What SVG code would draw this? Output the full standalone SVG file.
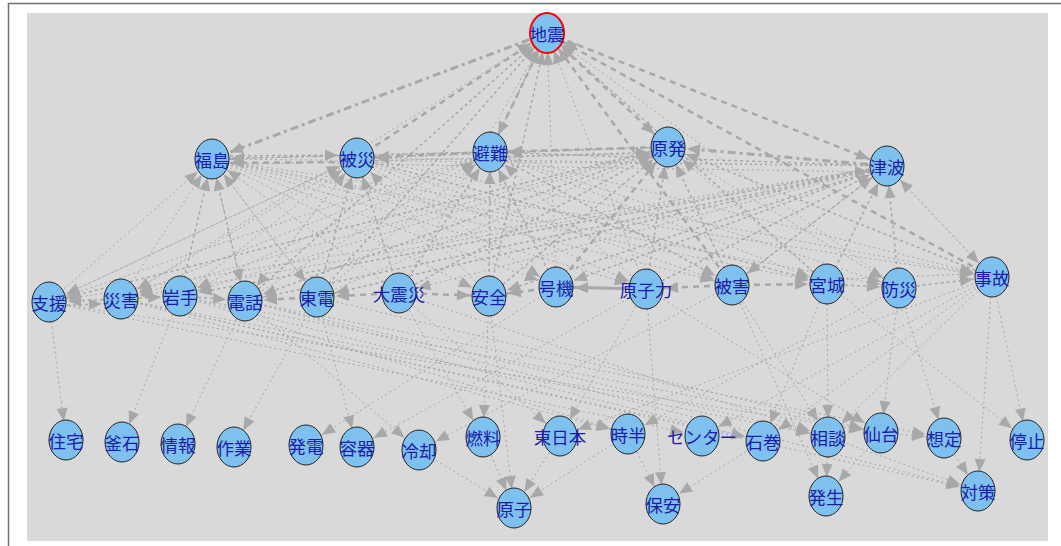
<svg xmlns="http://www.w3.org/2000/svg" width="1061" height="546" viewBox="0 0 1061 546">
<defs>
<marker id="ah" markerUnits="userSpaceOnUse" markerWidth="13" markerHeight="11" refX="32" refY="5.5" orient="auto" style="overflow:visible">
<path d="M0,0 L13,5.5 L0,11 z" fill="#a8a8a8"/>
</marker>
</defs>
<style>
.bg{fill:#ffffff;stroke:#707070;stroke-width:1.5}
.panel{fill:#d9d9d9}
#edges line{stroke:#a8a8a8;fill:none;marker-end:url(#ah)}
.d1{stroke-width:1;stroke-dasharray:2 3}
.d2{stroke-width:1.5;stroke-dasharray:3 3}
.d3{stroke-width:2.5;stroke-dasharray:6 5}
.d4{stroke-width:3;stroke-dasharray:8 4 3 4}
.s{stroke-width:3}
.node ellipse{fill:#7ec0ee;stroke:#222;stroke-width:1}
.node text{font-family:"Noto Sans CJK JP","Noto Sans CJK SC",sans-serif;font-size:17.5px;fill:#1c1ca8;text-anchor:middle;dominant-baseline:central}
#n00 ellipse{stroke:#ff0000;stroke-width:2}
</style>
<rect class="bg" x="8.5" y="3.5" width="1060" height="560"/>
<rect class="panel" x="27" y="13" width="1021" height="528"/>
<g id="edges">
<line class="d3" x1="357" y1="158" x2="547" y2="33"/>
<line class="d2" x1="490" y1="152" x2="547" y2="33"/>
<line class="d1" x1="121" y1="299" x2="547" y2="33"/>
<line class="d2" x1="245" y1="301" x2="547" y2="33"/>
<line class="d2" x1="317" y1="297" x2="547" y2="33"/>
<line class="d1" x1="399" y1="293" x2="547" y2="33"/>
<line class="d2" x1="489" y1="296" x2="547" y2="33"/>
<line class="d1" x1="556" y1="287" x2="547" y2="33"/>
<line class="d1" x1="646" y1="289" x2="547" y2="33"/>
<line class="d3" x1="732" y1="285" x2="547" y2="33"/>
<line class="d2" x1="827" y1="284" x2="547" y2="33"/>
<line class="d1" x1="899" y1="288" x2="547" y2="33"/>
<line class="d3" x1="992" y1="277" x2="547" y2="33"/>
<line class="d4" x1="547" y1="33" x2="212" y2="159"/>
<line class="d3" x1="547" y1="33" x2="490" y2="152"/>
<line class="d3" x1="547" y1="33" x2="668" y2="147"/>
<line class="d3" x1="547" y1="33" x2="887" y2="166"/>
<line class="d2" x1="212" y1="156" x2="357" y2="155"/>
<line class="d3" x1="357" y1="162" x2="212" y2="163"/>
<line class="d2" x1="490" y1="152" x2="212" y2="159"/>
<line class="d3" x1="490" y1="152" x2="357" y2="158"/>
<line class="d1" x1="668" y1="147" x2="212" y2="159"/>
<line class="d2" x1="668" y1="147" x2="357" y2="158"/>
<line class="d3" x1="668" y1="147" x2="490" y2="152"/>
<line class="d2" x1="490" y1="157" x2="668" y2="152"/>
<line class="d4" x1="887" y1="166" x2="668" y2="147"/>
<line class="d2" x1="887" y1="166" x2="490" y2="152"/>
<line class="d1" x1="887" y1="166" x2="357" y2="158"/>
<line class="d1" x1="887" y1="166" x2="212" y2="159"/>
<line class="d1" x1="212" y1="165" x2="668" y2="153"/>
<line class="d1" x1="357" y1="164" x2="887" y2="172"/>
<line class="d1" x1="49" y1="302" x2="212" y2="159"/>
<line class="d1" x1="121" y1="299" x2="212" y2="159"/>
<line class="d2" x1="180" y1="296" x2="212" y2="159"/>
<line class="d2" x1="245" y1="301" x2="212" y2="159"/>
<line class="d1" x1="317" y1="297" x2="212" y2="159"/>
<line class="d1" x1="399" y1="293" x2="212" y2="159"/>
<line class="d1" x1="180" y1="296" x2="357" y2="158"/>
<line class="d1" x1="245" y1="301" x2="357" y2="158"/>
<line class="d2" x1="317" y1="297" x2="357" y2="158"/>
<line class="d2" x1="399" y1="293" x2="357" y2="158"/>
<line class="d1" x1="489" y1="296" x2="357" y2="158"/>
<line class="d1" x1="49" y1="302" x2="357" y2="158"/>
<line class="d1" x1="317" y1="297" x2="490" y2="152"/>
<line class="d2" x1="399" y1="293" x2="490" y2="152"/>
<line class="d2" x1="489" y1="296" x2="490" y2="152"/>
<line class="d2" x1="556" y1="287" x2="490" y2="152"/>
<line class="d1" x1="646" y1="289" x2="490" y2="152"/>
<line class="d1" x1="245" y1="301" x2="490" y2="152"/>
<line class="d1" x1="317" y1="297" x2="668" y2="147"/>
<line class="d2" x1="489" y1="296" x2="668" y2="147"/>
<line class="d3" x1="556" y1="287" x2="668" y2="147"/>
<line class="d2" x1="646" y1="289" x2="668" y2="147"/>
<line class="d2" x1="732" y1="285" x2="668" y2="147"/>
<line class="d1" x1="827" y1="284" x2="668" y2="147"/>
<line class="d2" x1="992" y1="277" x2="668" y2="147"/>
<line class="d2" x1="399" y1="293" x2="668" y2="147"/>
<line class="d1" x1="732" y1="285" x2="887" y2="166"/>
<line class="d2" x1="827" y1="284" x2="887" y2="166"/>
<line class="d2" x1="899" y1="288" x2="887" y2="166"/>
<line class="d1" x1="992" y1="277" x2="887" y2="166"/>
<line class="d2" x1="646" y1="289" x2="887" y2="166"/>
<line class="d1" x1="212" y1="159" x2="245" y2="301"/>
<line class="d1" x1="357" y1="158" x2="245" y2="301"/>
<line class="d1" x1="212" y1="159" x2="317" y2="297"/>
<line class="d1" x1="212" y1="159" x2="489" y2="296"/>
<line class="d1" x1="212" y1="159" x2="556" y2="287"/>
<line class="d1" x1="212" y1="159" x2="646" y2="289"/>
<line class="d1" x1="212" y1="159" x2="732" y2="285"/>
<line class="d1" x1="212" y1="159" x2="827" y2="284"/>
<line class="d1" x1="212" y1="159" x2="899" y2="288"/>
<line class="d1" x1="212" y1="159" x2="992" y2="277"/>
<line class="d1" x1="357" y1="158" x2="49" y2="302"/>
<line class="d1" x1="357" y1="158" x2="121" y2="299"/>
<line class="d1" x1="357" y1="158" x2="556" y2="287"/>
<line class="d1" x1="357" y1="158" x2="646" y2="289"/>
<line class="d1" x1="357" y1="158" x2="732" y2="285"/>
<line class="d2" x1="357" y1="158" x2="827" y2="284"/>
<line class="d1" x1="357" y1="158" x2="992" y2="277"/>
<line class="d1" x1="490" y1="152" x2="49" y2="302"/>
<line class="d1" x1="490" y1="152" x2="121" y2="299"/>
<line class="d1" x1="490" y1="152" x2="180" y2="296"/>
<line class="d2" x1="490" y1="152" x2="732" y2="285"/>
<line class="d1" x1="490" y1="152" x2="827" y2="284"/>
<line class="d1" x1="490" y1="152" x2="899" y2="288"/>
<line class="d1" x1="490" y1="152" x2="992" y2="277"/>
<line class="d2" x1="668" y1="147" x2="49" y2="302"/>
<line class="d1" x1="668" y1="147" x2="121" y2="299"/>
<line class="d1" x1="668" y1="147" x2="180" y2="296"/>
<line class="d2" x1="668" y1="147" x2="245" y2="301"/>
<line class="d1" x1="668" y1="147" x2="899" y2="288"/>
<line class="d1" x1="887" y1="166" x2="49" y2="302"/>
<line class="d1" x1="887" y1="166" x2="121" y2="299"/>
<line class="d2" x1="887" y1="166" x2="180" y2="296"/>
<line class="d2" x1="887" y1="166" x2="245" y2="301"/>
<line class="d2" x1="887" y1="166" x2="317" y2="297"/>
<line class="d1" x1="887" y1="166" x2="399" y2="293"/>
<line class="d2" x1="887" y1="166" x2="489" y2="296"/>
<line class="d2" x1="887" y1="166" x2="556" y2="287"/>
<line class="d2" x1="887" y1="166" x2="732" y2="285"/>
<line class="d1" x1="887" y1="166" x2="992" y2="277"/>
<line class="d2" x1="121" y1="299" x2="49" y2="302"/>
<line class="d2" x1="49" y1="306" x2="121" y2="303"/>
<line class="d2" x1="121" y1="299" x2="180" y2="296"/>
<line class="d2" x1="180" y1="296" x2="245" y2="301"/>
<line class="d3" x1="317" y1="297" x2="245" y2="301"/>
<line class="d3" x1="399" y1="293" x2="317" y2="297"/>
<line class="d3" x1="399" y1="293" x2="489" y2="296"/>
<line class="d3" x1="556" y1="287" x2="489" y2="296"/>
<line class="s" x1="646" y1="289" x2="556" y2="287"/>
<line class="d3" x1="732" y1="285" x2="646" y2="289"/>
<line class="d3" x1="732" y1="285" x2="827" y2="284"/>
<line class="d2" x1="827" y1="284" x2="899" y2="288"/>
<line class="d2" x1="899" y1="288" x2="992" y2="277"/>
<line class="d1" x1="827" y1="280" x2="992" y2="273"/>
<line class="d1" x1="49" y1="302" x2="66" y2="440"/>
<line class="d1" x1="180" y1="296" x2="122" y2="442"/>
<line class="d1" x1="245" y1="301" x2="178" y2="444"/>
<line class="d1" x1="317" y1="297" x2="234" y2="447"/>
<line class="d1" x1="556" y1="287" x2="306" y2="445"/>
<line class="d1" x1="317" y1="297" x2="357" y2="447"/>
<line class="d1" x1="646" y1="289" x2="357" y2="447"/>
<line class="d1" x1="245" y1="301" x2="419" y2="450"/>
<line class="d1" x1="732" y1="285" x2="419" y2="450"/>
<line class="d1" x1="399" y1="293" x2="483" y2="437"/>
<line class="d1" x1="489" y1="296" x2="483" y2="437"/>
<line class="d1" x1="399" y1="293" x2="560" y2="436"/>
<line class="d1" x1="646" y1="289" x2="560" y2="436"/>
<line class="d1" x1="121" y1="299" x2="628" y2="434"/>
<line class="d1" x1="899" y1="288" x2="628" y2="434"/>
<line class="d1" x1="49" y1="302" x2="702" y2="436"/>
<line class="d1" x1="992" y1="277" x2="702" y2="436"/>
<line class="d1" x1="180" y1="296" x2="763" y2="441"/>
<line class="d1" x1="827" y1="284" x2="763" y2="441"/>
<line class="d1" x1="121" y1="299" x2="828" y2="437"/>
<line class="d1" x1="827" y1="284" x2="828" y2="437"/>
<line class="d1" x1="732" y1="285" x2="828" y2="437"/>
<line class="d1" x1="180" y1="296" x2="881" y2="433"/>
<line class="d1" x1="899" y1="288" x2="881" y2="433"/>
<line class="d1" x1="646" y1="289" x2="881" y2="433"/>
<line class="d1" x1="899" y1="288" x2="944" y2="438"/>
<line class="d1" x1="881" y1="433" x2="944" y2="438"/>
<line class="d1" x1="992" y1="277" x2="1027" y2="440"/>
<line class="d1" x1="827" y1="284" x2="1027" y2="440"/>
<line class="d1" x1="49" y1="302" x2="881" y2="433"/>
<line class="d1" x1="121" y1="299" x2="763" y2="441"/>
<line class="d1" x1="245" y1="301" x2="828" y2="437"/>
<line class="d1" x1="317" y1="297" x2="881" y2="433"/>
<line class="d1" x1="245" y1="301" x2="944" y2="438"/>
<line class="d1" x1="399" y1="293" x2="828" y2="437"/>
<line class="d1" x1="992" y1="277" x2="763" y2="441"/>
<line class="d1" x1="992" y1="277" x2="560" y2="436"/>
<line class="d1" x1="992" y1="277" x2="828" y2="437"/>
<line class="d1" x1="180" y1="296" x2="628" y2="434"/>
<line class="d1" x1="992" y1="277" x2="978" y2="491"/>
<line class="d1" x1="944" y1="438" x2="978" y2="491"/>
<line class="d1" x1="828" y1="437" x2="978" y2="491"/>
<line class="d1" x1="245" y1="301" x2="978" y2="491"/>
<line class="d1" x1="121" y1="299" x2="978" y2="491"/>
<line class="d1" x1="828" y1="437" x2="826" y2="496"/>
<line class="d1" x1="881" y1="433" x2="826" y2="496"/>
<line class="d1" x1="732" y1="285" x2="826" y2="496"/>
<line class="d1" x1="419" y1="450" x2="514" y2="508"/>
<line class="d1" x1="483" y1="437" x2="514" y2="508"/>
<line class="d1" x1="560" y1="436" x2="514" y2="508"/>
<line class="d1" x1="628" y1="434" x2="514" y2="508"/>
<line class="d1" x1="489" y1="296" x2="514" y2="508"/>
<line class="d1" x1="628" y1="434" x2="663" y2="504"/>
<line class="d1" x1="646" y1="289" x2="663" y2="504"/>
<line class="d1" x1="763" y1="441" x2="663" y2="504"/>
</g>
<g id="n00" class="node"><ellipse cx="547" cy="33" rx="17" ry="20"/><text x="547" y="33">地震</text></g>
<g id="n01" class="node"><ellipse cx="212" cy="159" rx="17" ry="20"/><text x="212" y="159">福島</text></g>
<g id="n02" class="node"><ellipse cx="357" cy="158" rx="17" ry="20"/><text x="357" y="158">被災</text></g>
<g id="n03" class="node"><ellipse cx="490" cy="152" rx="17" ry="20"/><text x="490" y="152">避難</text></g>
<g id="n04" class="node"><ellipse cx="668" cy="147" rx="17" ry="20"/><text x="668" y="147">原発</text></g>
<g id="n05" class="node"><ellipse cx="887" cy="166" rx="17" ry="20"/><text x="887" y="166">津波</text></g>
<g id="n06" class="node"><ellipse cx="49" cy="302" rx="17" ry="20"/><text x="49" y="302">支援</text></g>
<g id="n07" class="node"><ellipse cx="121" cy="299" rx="17" ry="20"/><text x="121" y="299">災害</text></g>
<g id="n08" class="node"><ellipse cx="180" cy="296" rx="17" ry="20"/><text x="180" y="296">岩手</text></g>
<g id="n09" class="node"><ellipse cx="245" cy="301" rx="17" ry="20"/><text x="245" y="301">電話</text></g>
<g id="n10" class="node"><ellipse cx="317" cy="297" rx="17" ry="20"/><text x="317" y="297">東電</text></g>
<g id="n11" class="node"><ellipse cx="399" cy="293" rx="17" ry="20"/><text x="399" y="293">大震災</text></g>
<g id="n12" class="node"><ellipse cx="489" cy="296" rx="17" ry="20"/><text x="489" y="296">安全</text></g>
<g id="n13" class="node"><ellipse cx="556" cy="287" rx="17" ry="20"/><text x="556" y="287">号機</text></g>
<g id="n14" class="node"><ellipse cx="646" cy="289" rx="17" ry="20"/><text x="646" y="289">原子力</text></g>
<g id="n15" class="node"><ellipse cx="732" cy="285" rx="17" ry="20"/><text x="732" y="285">被害</text></g>
<g id="n16" class="node"><ellipse cx="827" cy="284" rx="17" ry="20"/><text x="827" y="284">宮城</text></g>
<g id="n17" class="node"><ellipse cx="899" cy="288" rx="17" ry="20"/><text x="899" y="288">防災</text></g>
<g id="n18" class="node"><ellipse cx="992" cy="277" rx="17" ry="20"/><text x="992" y="277">事故</text></g>
<g id="n19" class="node"><ellipse cx="66" cy="440" rx="17" ry="20"/><text x="66" y="440">住宅</text></g>
<g id="n20" class="node"><ellipse cx="122" cy="442" rx="17" ry="20"/><text x="122" y="442">釜石</text></g>
<g id="n21" class="node"><ellipse cx="178" cy="444" rx="17" ry="20"/><text x="178" y="444">情報</text></g>
<g id="n22" class="node"><ellipse cx="234" cy="447" rx="17" ry="20"/><text x="234" y="447">作業</text></g>
<g id="n23" class="node"><ellipse cx="306" cy="445" rx="17" ry="20"/><text x="306" y="445">発電</text></g>
<g id="n24" class="node"><ellipse cx="357" cy="447" rx="17" ry="20"/><text x="357" y="447">容器</text></g>
<g id="n25" class="node"><ellipse cx="419" cy="450" rx="17" ry="20"/><text x="419" y="450">冷却</text></g>
<g id="n26" class="node"><ellipse cx="483" cy="437" rx="17" ry="20"/><text x="483" y="437">燃料</text></g>
<g id="n27" class="node"><ellipse cx="560" cy="436" rx="17" ry="20"/><text x="560" y="436">東日本</text></g>
<g id="n28" class="node"><ellipse cx="628" cy="434" rx="17" ry="20"/><text x="628" y="434">時半</text></g>
<g id="n29" class="node"><ellipse cx="702" cy="436" rx="17" ry="20"/><text x="702" y="436">センター</text></g>
<g id="n30" class="node"><ellipse cx="763" cy="441" rx="17" ry="20"/><text x="763" y="441">石巻</text></g>
<g id="n31" class="node"><ellipse cx="828" cy="437" rx="17" ry="20"/><text x="828" y="437">相談</text></g>
<g id="n32" class="node"><ellipse cx="881" cy="433" rx="17" ry="20"/><text x="881" y="433">仙台</text></g>
<g id="n33" class="node"><ellipse cx="944" cy="438" rx="17" ry="20"/><text x="944" y="438">想定</text></g>
<g id="n34" class="node"><ellipse cx="1027" cy="440" rx="17" ry="20"/><text x="1027" y="440">停止</text></g>
<g id="n35" class="node"><ellipse cx="514" cy="508" rx="17" ry="20"/><text x="514" y="508">原子</text></g>
<g id="n36" class="node"><ellipse cx="663" cy="504" rx="17" ry="20"/><text x="663" y="504">保安</text></g>
<g id="n37" class="node"><ellipse cx="826" cy="496" rx="17" ry="20"/><text x="826" y="496">発生</text></g>
<g id="n38" class="node"><ellipse cx="978" cy="491" rx="17" ry="20"/><text x="978" y="491">対策</text></g>
</svg>
